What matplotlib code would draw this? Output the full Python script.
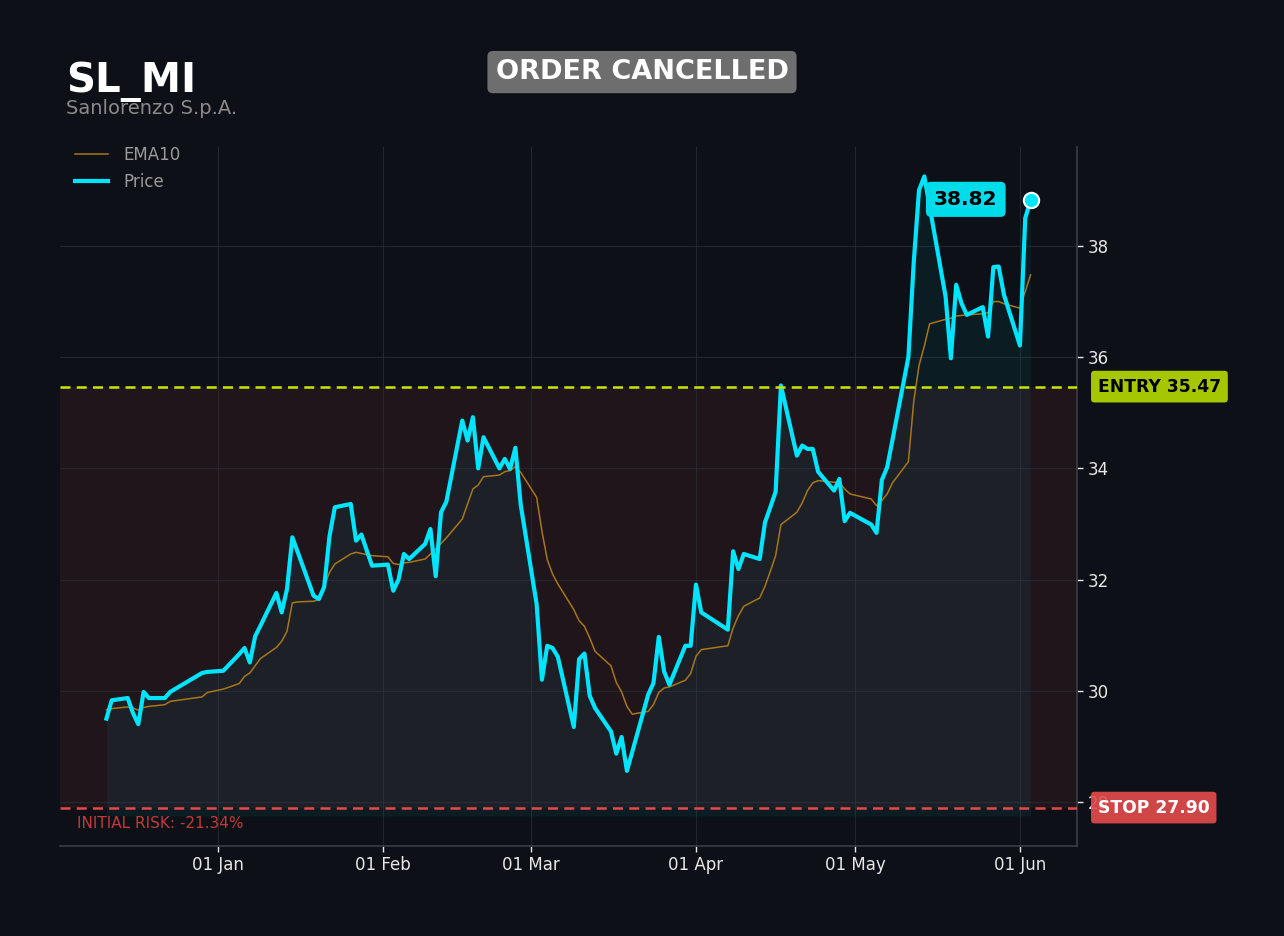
import matplotlib
matplotlib.use('Agg')
import matplotlib.pyplot as plt
import matplotlib.dates as mdates
import pandas as pd

# ---- data ----
ticker = 'SL_MI'
company = 'Sanlorenzo S.p.A.'
status = 'ORDER CANCELLED'
entry = 35.47
stop = 27.90

dates = [
    '2025-12-11', '2025-12-12', '2025-12-15', '2025-12-16', '2025-12-17', '2025-12-18',
    '2025-12-19', '2025-12-22', '2025-12-23', '2025-12-29', '2025-12-30', '2026-01-02',
    '2026-01-05', '2026-01-06', '2026-01-07', '2026-01-08', '2026-01-09', '2026-01-12',
    '2026-01-13', '2026-01-14', '2026-01-15', '2026-01-16', '2026-01-19', '2026-01-20',
    '2026-01-21', '2026-01-22', '2026-01-23', '2026-01-26', '2026-01-27', '2026-01-28',
    '2026-01-29', '2026-01-30', '2026-02-02', '2026-02-03', '2026-02-04', '2026-02-05',
    '2026-02-06', '2026-02-09', '2026-02-10', '2026-02-11', '2026-02-12', '2026-02-13',
    '2026-02-16', '2026-02-17', '2026-02-18', '2026-02-19', '2026-02-20', '2026-02-23',
    '2026-02-24', '2026-02-25', '2026-02-26', '2026-02-27', '2026-03-02', '2026-03-03',
    '2026-03-04', '2026-03-05', '2026-03-06', '2026-03-09', '2026-03-10', '2026-03-11',
    '2026-03-12', '2026-03-13', '2026-03-16', '2026-03-17', '2026-03-18', '2026-03-19',
    '2026-03-20', '2026-03-23', '2026-03-24', '2026-03-25', '2026-03-26', '2026-03-27',
    '2026-03-30', '2026-03-31', '2026-04-01', '2026-04-02', '2026-04-07', '2026-04-08',
    '2026-04-09', '2026-04-10', '2026-04-13', '2026-04-14', '2026-04-15', '2026-04-16',
    '2026-04-17', '2026-04-20', '2026-04-21', '2026-04-22', '2026-04-23', '2026-04-24',
    '2026-04-27', '2026-04-28', '2026-04-29', '2026-04-30', '2026-05-04', '2026-05-05',
    '2026-05-06', '2026-05-07', '2026-05-08', '2026-05-11', '2026-05-12', '2026-05-13',
    '2026-05-14', '2026-05-15', '2026-05-18', '2026-05-19', '2026-05-20', '2026-05-21',
    '2026-05-22', '2026-05-25', '2026-05-26', '2026-05-27', '2026-05-28', '2026-05-29',
    '2026-06-01', '2026-06-02', '2026-06-03',
]

price = [
    29.50, 29.83, 29.87, 29.60, 29.40, 29.98, 29.87, 29.87, 29.98, 30.32, 30.34, 30.36,
    30.66, 30.77, 30.51, 30.98, 31.17, 31.76, 31.41, 31.83, 32.76, 32.50, 31.71, 31.65,
    31.87, 32.78, 33.30, 33.36, 32.70, 32.81, 32.53, 32.25, 32.27, 31.80, 32.00, 32.46,
    32.37, 32.64, 32.91, 32.06, 33.21, 33.40, 34.86, 34.50, 34.92, 34.00, 34.56, 34.00,
    34.17, 33.99, 34.37, 33.35, 31.56, 30.20, 30.81, 30.77, 30.61, 29.35, 30.57, 30.67,
    29.91, 29.69, 29.27, 28.87, 29.17, 28.56, 28.90, 29.93, 30.14, 30.97, 30.35, 30.11,
    30.81, 30.81, 31.91, 31.41, 31.10, 32.51, 32.19, 32.46, 32.37, 33.03, 33.30, 33.58,
    35.49, 34.23, 34.41, 34.35, 34.35, 33.94, 33.60, 33.81, 33.05, 33.20, 32.99, 32.84,
    33.79, 34.02, 34.51, 36.00, 37.70, 39.00, 39.25, 38.71, 37.09, 35.98, 37.30, 36.97,
    36.76, 36.90, 36.37, 37.62, 37.63, 37.12, 36.21, 38.50, 38.82,
]

ema10 = [
    29.66, 29.68, 29.71, 29.69, 29.65, 29.70, 29.72, 29.75, 29.81, 29.89, 29.97, 30.03,
    30.13, 30.26, 30.32, 30.45, 30.58, 30.78, 30.89, 31.07, 31.58, 31.60, 31.61, 31.64,
    31.88, 32.13, 32.28, 32.46, 32.49, 32.47, 32.45, 32.43, 32.41, 32.29, 32.27, 32.30,
    32.31, 32.37, 32.46, 32.55, 32.65, 32.75, 33.09, 33.36, 33.63, 33.70, 33.85, 33.88,
    33.94, 33.96, 34.03, 33.93, 33.48, 32.87, 32.36, 32.10, 31.92, 31.46, 31.26, 31.16,
    30.95, 30.71, 30.45, 30.15, 29.98, 29.72, 29.58, 29.63, 29.75, 29.97, 30.05, 30.07,
    30.19, 30.31, 30.62, 30.74, 30.81, 31.13, 31.35, 31.52, 31.67, 31.88, 32.15, 32.43,
    32.99, 33.21, 33.38, 33.60, 33.74, 33.78, 33.75, 33.75, 33.63, 33.54, 33.45, 33.33,
    33.42, 33.54, 33.74, 34.12, 35.20, 35.85, 36.20, 36.60, 36.68, 36.70, 36.74, 36.75,
    36.76, 36.78, 36.80, 37.00, 37.00, 36.96, 36.88, 37.18, 37.48,
]

x = pd.to_datetime(dates)
last = price[-1]
risk = (stop - entry) / entry * 100

BG = '#0d1117'
CYAN = '#00e5ff'

fig = plt.figure(figsize=(12.84, 9.36), dpi=100, facecolor=BG)
ax = fig.add_axes([0.0467, 0.0962, 0.7921, 0.7468])
ax.set_facecolor(BG)

# risk zone and area under price
ax.axhspan(stop, entry, color='#e04848', alpha=0.085, lw=0, zorder=0)
ax.fill_between(x, price, 27.75, color=CYAN, alpha=0.055, lw=0, zorder=1)

ax.plot(x, ema10, color='#a8761a', lw=1.1, label='EMA10', zorder=3)
ax.plot(x, price, color=CYAN, lw=3.0, label='Price', zorder=4)
ax.plot(x[-1], last, 'o', ms=11, color=CYAN, mec='white', mew=1.5, zorder=6)

ax.axhline(entry, color='#c8e600', lw=1.8, ls=(0, (4, 2.5)), zorder=5)
ax.axhline(stop, color='#e44a4a', lw=1.8, ls=(0, (4, 2.5)), zorder=5)

ax.set_xlim(pd.Timestamp('2025-12-02 06:00'), pd.Timestamp('2026-06-11 18:00'))
ax.set_ylim(27.21, 39.78)

ax.yaxis.tick_right()
ax.set_yticks([28, 30, 32, 34, 36, 38])
ax.xaxis.set_major_locator(mdates.MonthLocator())
ax.xaxis.set_major_formatter(mdates.DateFormatter('%d %b'))
ax.tick_params(colors='#e8e8e8', labelsize=12, length=4, width=1)
ax.grid(True, color='#2a2e35', lw=0.8, alpha=0.7)
ax.set_axisbelow(True)
for side in ['left', 'top']:
    ax.spines[side].set_visible(False)
for side in ['right', 'bottom']:
    ax.spines[side].set_color('#3a3d42')
    ax.spines[side].set_linewidth(1.2)

leg = ax.legend(loc='upper left', frameon=False, fontsize=12, labelcolor='#9a9a9a',
                bbox_to_anchor=(0.0, 1.023), handlelength=2.0, handletextpad=0.9,
                labelspacing=0.55)

# right side price labels (boxes slightly see-through, the 28 tick shows behind)
yt = ax.get_yaxis_transform()
ax.text(1.0205, entry, 'ENTRY %.2f' % entry, transform=yt, va='center', ha='left',
        fontsize=12.3, fontweight='bold', color='black', zorder=10, clip_on=False,
        bbox=dict(boxstyle='round,pad=0.4,rounding_size=0.2', fc='#aed200', ec='none',
                  alpha=0.95))
ax.text(1.0205, stop, 'STOP %.2f' % stop, transform=yt, va='center', ha='left',
        fontsize=12.3, fontweight='bold', color='white', zorder=10, clip_on=False,
        bbox=dict(boxstyle='round,pad=0.4,rounding_size=0.2', fc='#e64c4c', ec='none',
                  alpha=0.9))

ax.text(0.017, stop - 0.15, 'INITIAL RISK: %.2f%%' % risk, transform=yt, va='top',
        ha='left', fontsize=11, color='#c03a3a', zorder=10)

ax.annotate('%.2f' % last, xy=(x[-1], last), xytext=(-33, 1), textcoords='offset pixels',
            ha='right', va='center', fontsize=14.5, fontweight='bold', color='black', zorder=7,
            bbox=dict(boxstyle='round,pad=0.4,rounding_size=0.25', fc='#00dcea', ec='none'))

# header
fig.text(0.0514, 0.902, ticker, fontsize=29, fontweight='bold', color='white', va='baseline')
fig.text(0.0514, 0.878, company, fontsize=14, color='#8a8a8a', va='baseline')
fig.text(0.5, 0.923, status, fontsize=19.5, fontweight='bold', color='white', ha='center',
         va='center',
         bbox=dict(boxstyle='round,pad=0.3,rounding_size=0.2', fc='#6e6e6e', ec='none'))

fig.savefig('out.png', dpi=100, facecolor=BG)
